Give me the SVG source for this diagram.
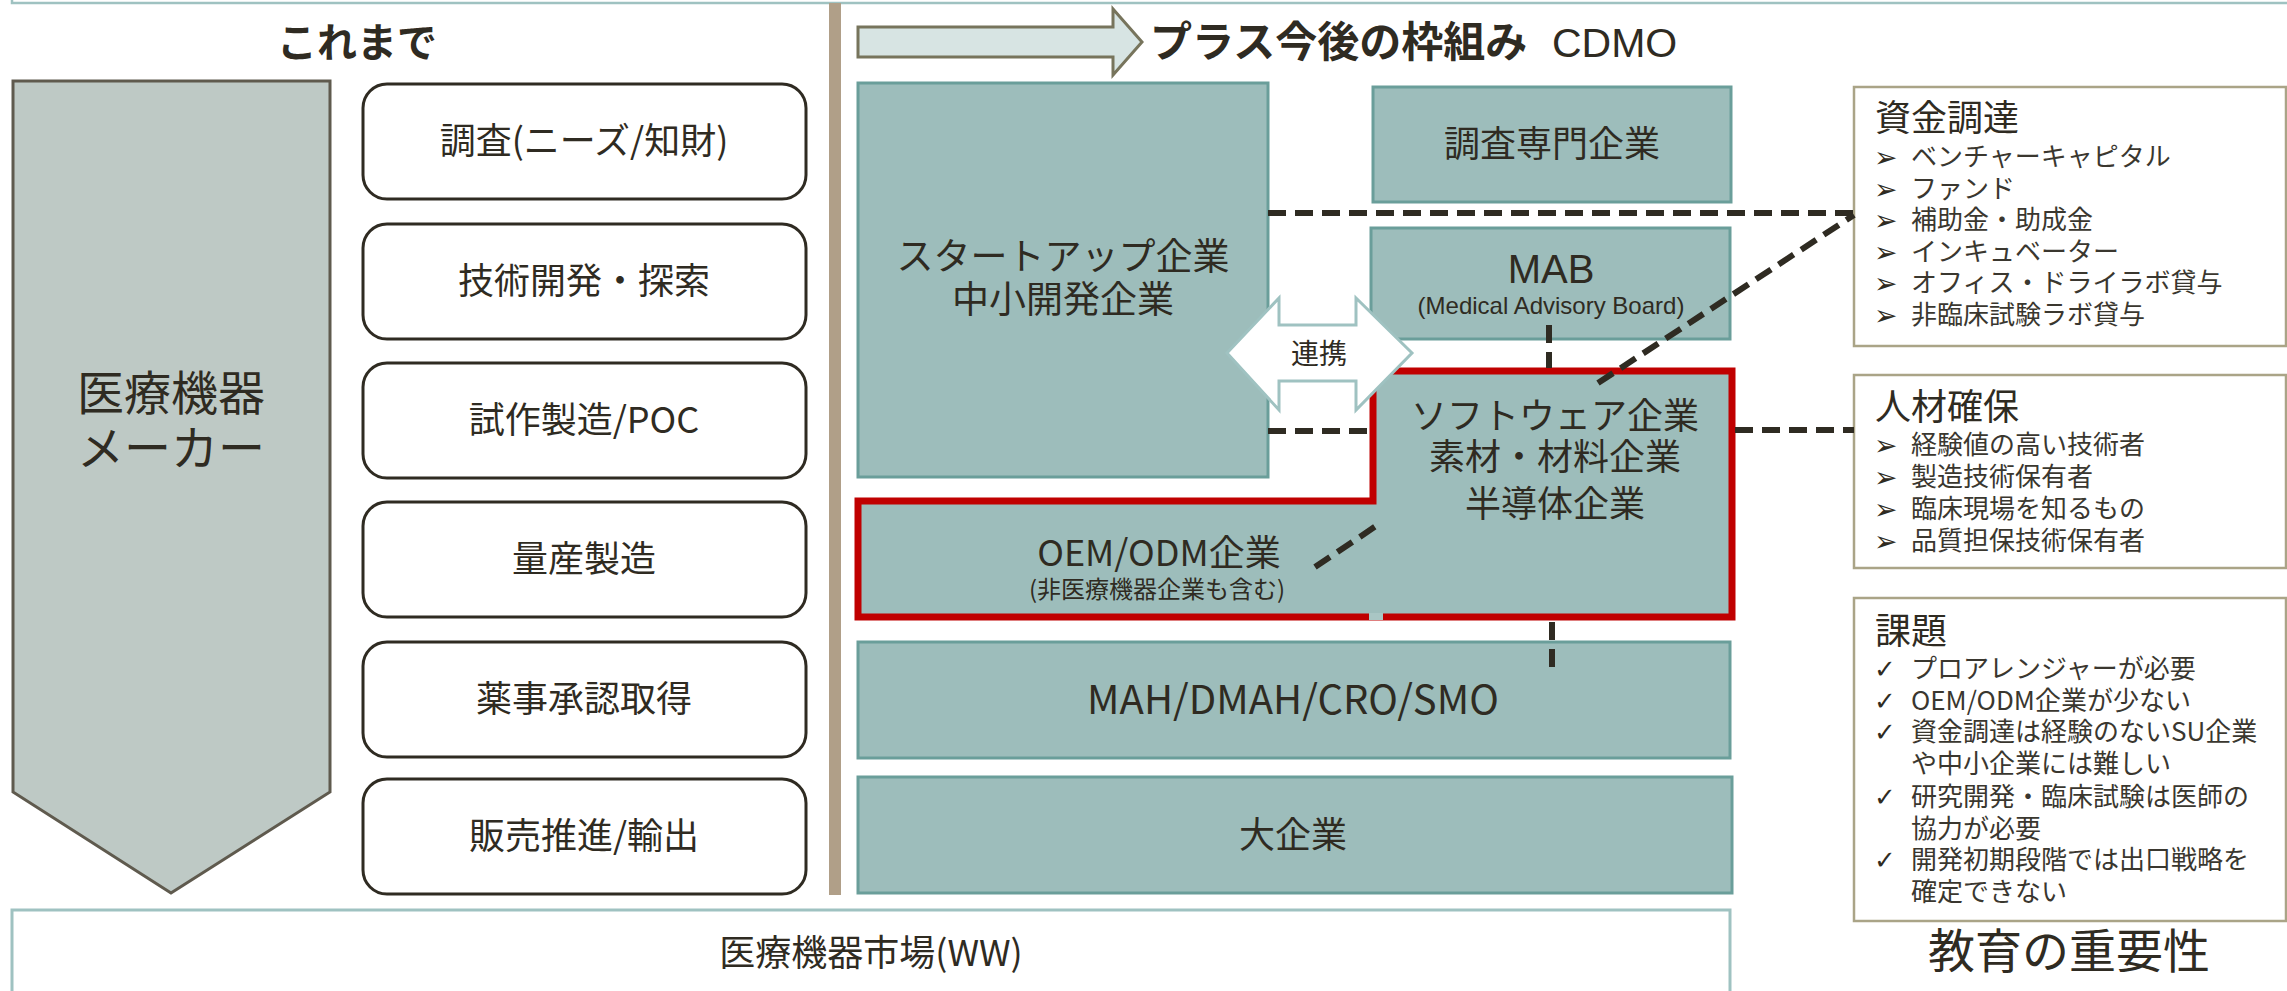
<svg xmlns="http://www.w3.org/2000/svg" width="2287" height="991" viewBox="0 0 2287 991">
<style>
text{font-family:"Noto Sans CJK JP","Noto Sans",sans-serif;fill:#2f2b22}
.c{text-anchor:middle}
.lbl{font-size:36px}
.step{fill:#fff;stroke:#2f2b22;stroke-width:3}
.tb{fill:#9dbdbb;stroke:#6a9e9a;stroke-width:3}
.side{fill:#fff;stroke:#aaa487;stroke-width:2.5}
.it{font-size:26px;fill:#3a372f}
.bul{font-family:"DejaVu Sans",sans-serif;font-size:28px;font-weight:bold;fill:#2f2b22}
.chk{font-family:"DejaVu Sans",sans-serif;font-size:26px;fill:#2f2b22}
.dash{fill:none;stroke:#2f2b22;stroke-width:6;stroke-dasharray:18 9}
.lat{font-family:"Liberation Sans",Arial,sans-serif}
</style>
<rect width="2287" height="991" fill="#fff"/>
<path d="M12,0 V3 H2287" fill="none" stroke="#9fc2c1" stroke-width="2.5"/>

<g id="header-left">
<text x="357" y="57" class="c" font-size="40" font-weight="bold">これまで</text>
</g>
<g id="maker">
<polygon points="13,81 330,81 330,792 171,893 13,792" fill="#bec9c5" stroke="#5f5a4e" stroke-width="3"/>
<text x="171" y="410" class="c" font-size="47">医療機器</text>
<text x="171" y="465" class="c" font-size="47">メーカー</text>
</g>
<g id="step1"><rect x="363" y="84" width="443" height="115" rx="24" class="step"/><text x="584" y="154" class="c lbl">調査(ニーズ/知財)</text></g>
<g id="step2"><rect x="363" y="224" width="443" height="115" rx="24" class="step"/><text x="584" y="294" class="c lbl">技術開発・探索</text></g>
<g id="step3"><rect x="363" y="363" width="443" height="115" rx="24" class="step"/><text x="584" y="433" class="c lbl">試作製造/POC</text></g>
<g id="step4"><rect x="363" y="502" width="443" height="115" rx="24" class="step"/><text x="584" y="572" class="c lbl">量産製造</text></g>
<g id="step5"><rect x="363" y="642" width="443" height="115" rx="24" class="step"/><text x="584" y="712" class="c lbl">薬事承認取得</text></g>
<g id="step6"><rect x="363" y="779" width="443" height="115" rx="24" class="step"/><text x="584" y="849" class="c lbl">販売推進/輸出</text></g>

<g id="divider"><rect x="829" y="3" width="12" height="892" fill="#b09f88"/></g>

<g id="header-right">
<polygon points="858,27 1113,27 1113,9 1142,42 1113,75 1113,57 858,57" fill="#d7e4e3" stroke="#77745c" stroke-width="3"/>
<text x="1150" y="57" font-size="42" font-weight="bold">プラス今後の枠組み</text>
<text x="1552" y="57" font-size="41" class="lat">CDMO</text>
</g>

<g id="startup"><rect x="858" y="83" width="410" height="394" class="tb"/>
<text x="1063" y="270" class="c" font-size="37">スタートアップ企業</text>
<text x="1063" y="313" class="c" font-size="37">中小開発企業</text></g>
<g id="research"><rect x="1373" y="87" width="358" height="115" class="tb"/><text x="1552" y="157" class="c lbl">調査専門企業</text></g>
<g id="mab"><rect x="1371" y="228" width="359" height="111" class="tb"/>
<text x="1551" y="283" class="c lat" font-size="40">MAB</text>
<text x="1551" y="314" class="c lat" font-size="24">(Medical Advisory Board)</text></g>

<g id="software-oem">
<polygon points="1373,371 1732,371 1732,617 858,617 858,501 1373,501" fill="#9dbdbb" stroke="#c00000" stroke-width="7"/>
<rect x="1369" y="613" width="14" height="7" fill="#a9c6c4"/>
<text x="1555" y="429" class="c lbl">ソフトウェア企業</text>
<text x="1555" y="470" class="c lbl">素材・材料企業</text>
<text x="1555" y="517" class="c lbl">半導体企業</text>
<text x="1159" y="566" class="c lbl">OEM/ODM企業</text>
<text x="1157" y="598" class="c" font-size="24">(非医療機器企業も含む)</text>
</g>
<g id="mah"><rect x="858" y="642" width="872" height="116" class="tb"/><text x="1293" y="714" class="c" font-size="40">MAH/DMAH/CRO/SMO</text></g>
<g id="large"><rect x="858" y="777" width="874" height="116" class="tb"/><text x="1293" y="848" class="c lbl">大企業</text></g>

<g id="renkei">
<polygon points="1227,353 1279,298 1279,325 1356,325 1356,298 1412,353 1356,410 1356,381 1279,381 1279,410" fill="#fff" stroke="#9fc2c1" stroke-width="3"/>
<text x="1319" y="364" class="c" font-size="28">連携</text>
</g>

<g id="market"><rect x="12" y="910" width="1718" height="100" fill="#fff" stroke="#9fc2c1" stroke-width="3"/>
<text x="871" y="966" class="c lbl">医療機器市場(WW)</text></g>

<g id="funding"><rect x="1854" y="87" width="432" height="259" class="side"/>
<text x="1875" y="131" font-size="36">資金調達</text>
<text x="1874" y="167" class="bul">➢</text><text x="1911" y="166" class="it">ベンチャーキャピタル</text>
<text x="1874" y="199" class="bul">➢</text><text x="1911" y="198" class="it">ファンド</text>
<text x="1874" y="230" class="bul">➢</text><text x="1911" y="229" class="it">補助金・助成金</text>
<text x="1874" y="262" class="bul">➢</text><text x="1911" y="261" class="it">インキュベーター</text>
<text x="1874" y="293" class="bul">➢</text><text x="1911" y="292" class="it">オフィス・ドライラボ貸与</text>
<text x="1874" y="325" class="bul">➢</text><text x="1911" y="324" class="it">非臨床試験ラボ貸与</text>
</g>
<g id="talent"><rect x="1854" y="375" width="432" height="193" class="side"/>
<text x="1875" y="420" font-size="36">人材確保</text>
<text x="1874" y="455" class="bul">➢</text><text x="1911" y="454" class="it">経験値の高い技術者</text>
<text x="1874" y="487" class="bul">➢</text><text x="1911" y="486" class="it">製造技術保有者</text>
<text x="1874" y="519" class="bul">➢</text><text x="1911" y="518" class="it">臨床現場を知るもの</text>
<text x="1874" y="551" class="bul">➢</text><text x="1911" y="550" class="it">品質担保技術保有者</text>
</g>
<g id="issues"><rect x="1854" y="598" width="432" height="323" class="side"/>
<text x="1875" y="644" font-size="36">課題</text>
<text x="1874" y="678" class="chk">✓</text><text x="1911" y="678" class="it">プロアレンジャーが必要</text>
<text x="1874" y="710" class="chk">✓</text><text x="1911" y="710" class="it">OEM/ODM企業が少ない</text>
<text x="1874" y="741" class="chk">✓</text><text x="1911" y="741" class="it">資金調達は経験のないSU企業</text>
<text x="1911" y="773" class="it">や中小企業には難しい</text>
<text x="1874" y="806" class="chk">✓</text><text x="1911" y="806" class="it">研究開発・臨床試験は医師の</text>
<text x="1911" y="838" class="it">協力が必要</text>
<text x="1874" y="869" class="chk">✓</text><text x="1911" y="869" class="it">開発初期段階では出口戦略を</text>
<text x="1911" y="901" class="it">確定できない</text>
</g>
<g id="education"><text x="2069" y="968" class="c" font-size="47">教育の重要性</text></g>

<g id="connectors">
<line x1="1268" y1="213" x2="1854" y2="213" class="dash"/>
<line x1="1598" y1="383" x2="1854" y2="215" class="dash"/>
<line x1="1268" y1="431" x2="1370" y2="431" class="dash"/>
<line x1="1735" y1="430" x2="1854" y2="430" class="dash"/>
<line x1="1549" y1="325" x2="1549" y2="368" class="dash"/>
<line x1="1315" y1="567" x2="1382" y2="522" class="dash"/>
<line x1="1552" y1="622" x2="1552" y2="674" class="dash"/>
</g>
</svg>
